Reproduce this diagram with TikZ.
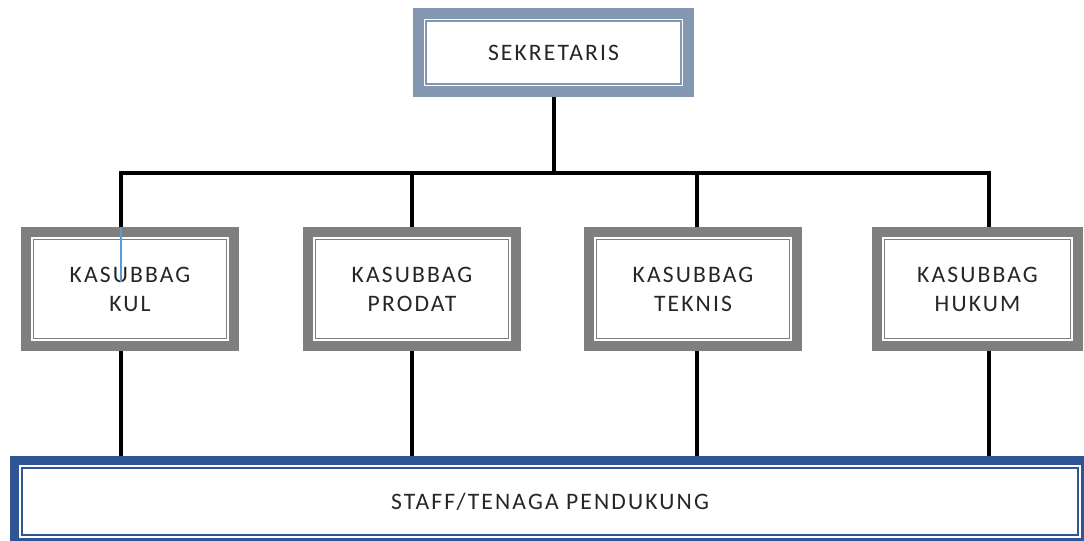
\documentclass[tikz,border=0pt]{standalone}
\usepackage{fontspec}
\usepackage{tikz}
\usetikzlibrary{positioning}

\newfontfamily\orgfont{Carlito}[LetterSpace=9]
\definecolor{sekband}{HTML}{8497B0}
\definecolor{subband}{HTML}{7F7F7F}
\definecolor{staffband}{HTML}{2F5597}
\definecolor{labeltext}{HTML}{262626}
\definecolor{stray}{HTML}{5B9BD5}

\begin{document}
\begin{tikzpicture}[x=0.5pt,y=-0.5pt,node distance=141pt,on grid,
    framed/.style={draw=#1, fill=white, line width=5pt, inner sep=0pt,
      align=center, text=labeltext,
      font=\orgfont\fontsize{11.8}{14.5}\selectfont,
      path picture={\draw[#1, line width=0.7pt]
        ([shift={(3.8pt,3.8pt)}]path picture bounding box.south west) rectangle
        ([shift={(-3.8pt,-3.8pt)}]path picture bounding box.north east);}},
    unit/.style={framed=subband, minimum width=104pt, minimum height=57pt},
    conn/.style={line width=2pt, black}]

    \useasboundingbox (0,0) rectangle (1084,541);

    \node[framed=sekband, line width=5.5pt, minimum width=135pt, minimum height=39pt]
      (sek) at (553.5,52.5) {SEKRETARIS};

    \node[unit] (kul) at (130,289) {KASUBBAG\\KUL};
    \node[unit] (prodat) [right=of kul] {KASUBBAG\\PRODAT};
    \node[unit] (teknis) [right=140.5pt of prodat] {KASUBBAG\\TEKNIS};
    \node[unit, minimum width=100.5pt] (hukum) [right=142.25pt of teknis] {KASUBBAG\\HUKUM};

    \node[framed=staffband, line width=4.5pt, minimum width=535.5pt, minimum height=41pt]
      (staff) at (550,501.5) {STAFF/TENAGA PENDUKUNG};

    % bus between the secretary and the four units
    \coordinate (busL) at (121,173);
    \coordinate (busR) at (989,173);
    \coordinate (dropT) at (697,173);

    \draw[conn] (sek.south) -- (sek.south |- busL);
    \draw[conn] (busL |- kul.north) |- (busR) -- (busR |- hukum.north);
    \draw[conn] (prodat.north) -- (prodat.north |- busL);
    \draw[conn] (dropT |- teknis.north) -- (dropT);

    % units down to the staff bar
    \draw[conn] (busL |- kul.south) -- (busL |- staff.north);
    \draw[conn] (prodat.south) -- (prodat.south |- staff.north);
    \draw[conn] (dropT |- teknis.south) -- (dropT |- staff.north);
    \draw[conn] (busR |- hukum.south) -- (busR |- staff.north);

    \draw[stray, line width=0.6pt] (busL |- kul.north) -- ++(0,55);

  \end{tikzpicture}
\end{document}
